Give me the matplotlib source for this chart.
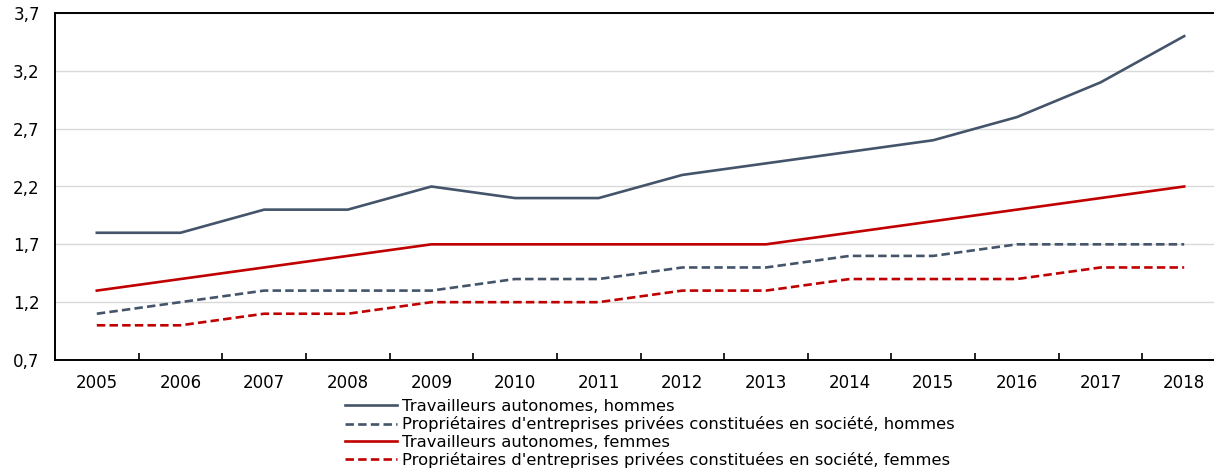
import matplotlib
matplotlib.use("Agg")
import matplotlib.pyplot as plt
import numpy as np
from matplotlib.ticker import FixedLocator, FuncFormatter

# data
years = [2005, 2006, 2007, 2008, 2009, 2010, 2011, 2012, 2013, 2014, 2015, 2016, 2017, 2018]
autonomes_hommes = [1.8, 1.8, 2.0, 2.0, 2.2, 2.1, 2.1, 2.3, 2.4, 2.5, 2.6, 2.8, 3.1, 3.5]
proprietaires_hommes = [1.1, 1.2, 1.3, 1.3, 1.3, 1.4, 1.4, 1.5, 1.5, 1.6, 1.6, 1.7, 1.7, 1.7]
autonomes_femmes = [1.3, 1.4, 1.5, 1.6, 1.7, 1.7, 1.7, 1.7, 1.7, 1.8, 1.9, 2.0, 2.1, 2.2]
proprietaires_femmes = [1.0, 1.0, 1.1, 1.1, 1.2, 1.2, 1.2, 1.3, 1.3, 1.4, 1.4, 1.4, 1.5, 1.5]
y_ticks = [0.7, 1.2, 1.7, 2.2, 2.7, 3.2, 3.7]

labels = [
    "Travailleurs autonomes, hommes",
    "Propriétaires d'entreprises privées constituées en société, hommes",
    "Travailleurs autonomes, femmes",
    "Propriétaires d'entreprises privées constituées en société, femmes",
]

GREY = "#44546A"
RED = "#C00000"

plt.rcParams['font.family'] = ['DejaVu Sans']

fig = plt.figure(figsize=(12.14, 4.70), dpi=100)
# the plot area runs a little past the right edge of the picture, as in the reference
ax = fig.add_axes([55 / 1214, 1 - 360 / 470, (1226 - 55) / 1214, (360 - 13) / 470])

x = np.arange(len(years))
lw = 1.9
dash = (0, (3.2, 1.6))
ax.plot(x, autonomes_hommes, color=GREY, lw=lw, label=labels[0])
ax.plot(x, proprietaires_hommes, color=GREY, lw=lw, ls=dash, label=labels[1])
ax.plot(x, autonomes_femmes, color=RED, lw=lw, label=labels[2])
ax.plot(x, proprietaires_femmes, color=RED, lw=lw, ls=dash, label=labels[3])

ax.set_xlim(-0.5, len(years) - 0.5)
ax.set_ylim(0.7, 3.7)
ax.set_xticks(x)
ax.set_xticklabels([str(y) for y in years])
ax.xaxis.set_minor_locator(FixedLocator(np.arange(0.5, len(years) - 1, 1.0)))
ax.tick_params(axis='x', which='major', length=0, pad=10, labelsize=12)
ax.tick_params(axis='x', which='minor', length=5, direction='in', width=1.2)

ax.yaxis.set_major_locator(FixedLocator(y_ticks))
ax.yaxis.set_major_formatter(FuncFormatter(lambda v, p: f"{v:.1f}".replace('.', ',')))
ax.tick_params(axis='y', length=0, pad=11, labelsize=12)
ax.grid(axis='y', color='#D9D9D9', lw=1)
ax.set_axisbelow(True)

for side in ['left', 'bottom', 'top']:
    ax.spines[side].set_color('black')
    ax.spines[side].set_linewidth(1.4)
ax.spines['right'].set_visible(False)

fig.legend(loc='upper left', bbox_to_anchor=(345 / 1214, 1 - 399 / 470), frameon=False,
           fontsize=11.8, handlelength=3.2, handletextpad=0.25, labelspacing=0.14,
           borderpad=0, borderaxespad=0)

fig.savefig("out.png", dpi=100)
